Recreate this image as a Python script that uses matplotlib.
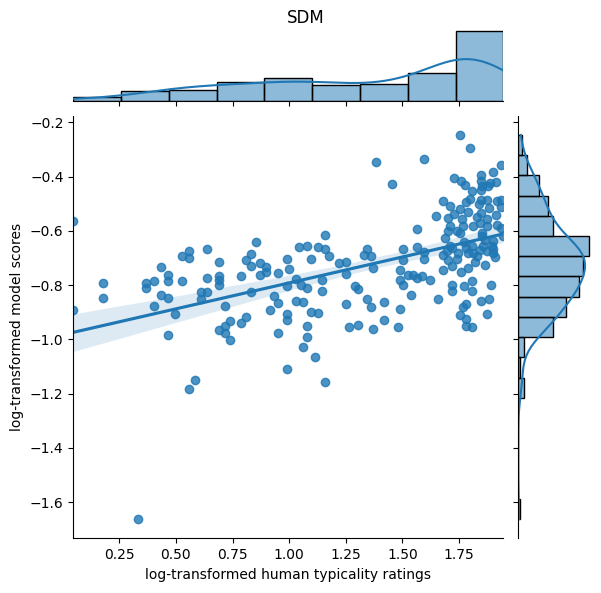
import matplotlib
matplotlib.use("Agg")
import matplotlib.pyplot as plt
import numpy as np
import pandas as pd
import seaborn as sns

human_typicality = [
    0.047, 0.047, 0.179, 0.179, 0.368, 0.368, 0.404, 0.404, 0.434, 0.434,
    0.465, 0.465, 0.465, 0.465, 0.496, 0.528, 0.528, 0.559, 0.559, 0.559,
    0.585, 0.334, 0.611, 0.611, 0.637, 0.637, 0.637, 0.691, 0.691, 0.691,
    0.691, 0.691, 0.717, 0.717, 0.717, 0.740, 0.740, 0.787, 0.787, 0.811,
    0.811, 0.833, 0.833, 0.833, 0.855, 0.872, 0.872, 0.896, 0.896, 0.917,
    0.934, 0.952, 0.952, 0.952, 0.992, 0.992, 0.992, 0.992, 0.992, 1.028,
    1.028, 1.045, 1.062, 1.062, 1.080, 1.080, 1.080, 1.080, 1.098, 1.098,
    1.128, 1.128, 1.115, 1.159, 1.159, 1.159, 1.177, 1.146, 1.146, 1.221,
    1.252, 1.252, 1.252, 1.265, 1.290, 1.305, 1.305, 1.330, 1.345, 1.359,
    1.371, 1.345, 1.359, 1.371, 1.385, 1.455, 1.419, 1.419, 1.482, 1.489,
    1.489, 1.504, 1.489, 1.504, 1.504, 1.526, 1.548, 1.566, 1.588, 1.536,
    1.566, 1.566, 1.596, 1.596, 1.596, 1.646, 1.658, 1.755, 1.800, 1.755,
    1.769, 1.781, 1.781, 1.781, 1.808, 1.847, 1.883, 1.872, 1.681, 1.717,
    1.717, 1.773, 1.808, 1.808, 1.791, 1.688, 1.710, 1.695, 1.719, 1.747,
    1.701, 1.740, 1.719, 1.740, 1.755, 1.781, 1.791, 1.805, 1.828, 1.820,
    1.851, 1.864, 1.857, 1.843, 1.872, 1.901, 1.901, 1.910, 1.864, 1.933,
    1.901, 1.729, 1.759, 1.777, 1.847, 1.847, 1.850, 1.847, 1.887, 1.913,
    1.879, 1.808, 1.681, 1.710, 1.755, 1.781, 1.800, 1.845, 1.872, 1.839,
    1.916, 1.933, 1.933, 1.883, 1.913, 1.847, 1.828, 1.700, 1.729, 1.763,
    1.769, 1.710, 1.810, 1.872, 1.872, 1.916,
    1.933, 1.945, 1.895, 1.850, 1.770, 1.810, 1.900, 1.840, 1.790, 1.760,
    1.890, 1.700, 1.620, 1.680, 1.000, 1.050,
]

model_scores = [
    -0.562, -0.890, -0.792, -0.847, -0.792, -0.810, -0.786, -0.877, -0.732, -0.836,
    -0.761, -0.786, -0.847, -0.983, -0.908, -0.693, -0.786, -0.675, -0.699, -1.182,
    -1.149, -1.663, -0.825, -0.853, -0.665, -0.773, -0.825, -0.714, -0.765, -0.781,
    -0.798, -0.965, -0.877, -0.951, -0.976, -0.934, -1.004, -0.768, -0.938, -0.709,
    -0.919, -0.684, -0.730, -0.825, -0.641, -0.720, -0.761, -0.734, -0.752, -0.890,
    -0.842, -0.754, -0.865, -0.976, -0.703, -0.803, -0.908, -0.929, -1.111, -0.777,
    -0.857, -0.659, -0.862, -1.030, -0.654, -0.810, -0.952, -0.990, -0.703, -0.898,
    -0.661, -0.902, -1.064, -0.614, -0.665, -1.156, -0.693, -0.781, -0.822, -0.718,
    -0.714, -0.760, -0.871, -0.954, -0.803, -0.816, -0.947, -0.689, -0.665, -0.693,
    -0.736, -0.850, -0.881, -0.961, -0.346, -0.426, -0.862, -0.929, -0.954, -0.887,
    -0.781, -0.798, -0.743, -0.665, -0.706, -0.761, -0.761, -0.775, -0.765, -0.836,
    -0.592, -0.659, -0.678, -0.703, -0.335, -0.545, -0.850, -0.246, -0.293, -0.912,
    -0.881, -0.871, -0.924, -0.951, -0.956, -0.857, -0.853, -0.905, -0.743, -0.801,
    -0.822, -0.803, -0.784, -0.822, -0.738, -0.626, -0.654, -0.675, -0.663, -0.681,
    -0.706, -0.703, -0.730, -0.601, -0.607, -0.663, -0.681, -0.657, -0.693, -0.715,
    -0.607, -0.632, -0.654, -0.671, -0.675, -0.638, -0.681, -0.696, -0.724, -0.356,
    -0.382, -0.405, -0.417, -0.429, -0.393, -0.417, -0.436, -0.448, -0.423, -0.418,
    -0.436, -0.452, -0.488, -0.507, -0.519, -0.492, -0.482, -0.485, -0.485, -0.499,
    -0.491, -0.485, -0.512, -0.515, -0.540, -0.534, -0.548, -0.552, -0.537, -0.558,
    -0.583, -0.583, -0.583, -0.558, -0.583, -0.577,
    -0.588, -0.620, -0.657, -0.620, -0.640, -0.680, -0.665, -0.570, -0.530, -0.750,
    -0.800, -0.600, -0.780, -0.690, -0.740, -0.800,
]

title = "SDM"
x_label = "log-transformed human typicality ratings"
y_label = "log-transformed model scores"

df = pd.DataFrame({"x": human_typicality, "y": model_scores})

g = sns.jointplot(data=df, x="x", y="y", kind="reg", height=6)
fig = g.figure
W, H = 601, 593
fig.set_size_inches(W / 100, H / 100)

g.ax_joint.set_position([73.3 / W, 54.7 / H, 430 / W, 422.6 / H])
g.ax_marg_x.set_position([73.3 / W, 492 / H, 430 / W, 73 / H])
g.ax_marg_y.set_position([518.2 / W, 54.7 / H, 74 / W, 422.6 / H])

g.ax_joint.set_xlim(df["x"].min(), df["x"].max())
g.ax_joint.set_xlabel(x_label)
g.ax_joint.set_ylabel(y_label)
fig.text(305.8 / W, 1 - 18 / H, title, ha="center", va="center", fontsize=12)

fig.savefig("out.png", dpi=100)
